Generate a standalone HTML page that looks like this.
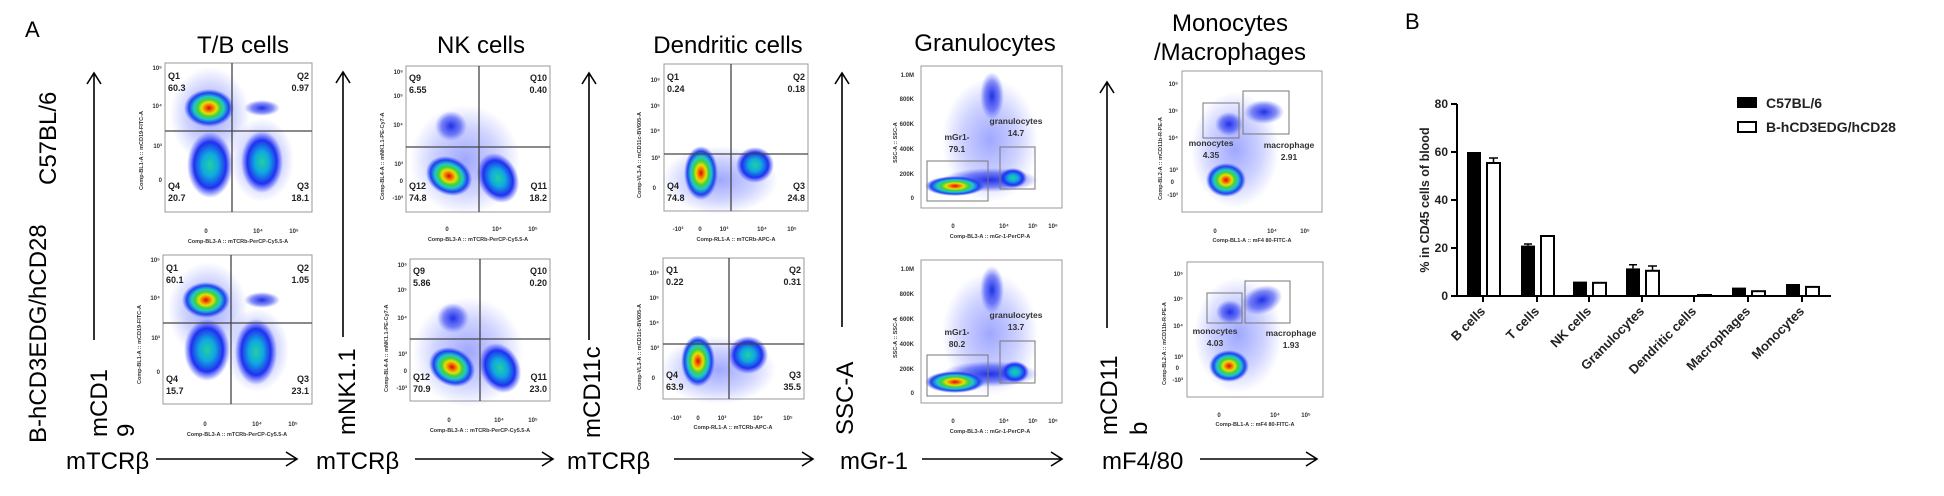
<!DOCTYPE html>
<html><head><meta charset="utf-8"><style>
html,body{margin:0;padding:0;background:#fff;}
svg{display:block;font-family:"Liberation Sans",Arial,sans-serif;}
.q{font-size:9px;font-weight:bold;fill:#222;}
.t{font-size:6px;fill:#333;font-weight:bold;}
.ax{font-size:5.5px;font-weight:bold;fill:#333;}
.big{font-size:24px;fill:#000;}
.gl{font-size:8.5px;font-weight:bold;fill:#333;}
.box{fill:#fff;stroke:#999;stroke-width:1;}
.qd{stroke:#444;stroke-width:1.3;}
.gate{fill:none;stroke:#777;stroke-width:1;}
.bl{font-size:13px;font-weight:bold;fill:#222;}
</style></head><body>
<svg width="1944" height="496" viewBox="0 0 1944 496" xmlns="http://www.w3.org/2000/svg">
<defs>
<radialGradient id="hot"><stop offset="0" stop-color="#e00010"/><stop offset="0.15" stop-color="#f07000"/><stop offset="0.3" stop-color="#e8e000"/><stop offset="0.45" stop-color="#40d040"/><stop offset="0.6" stop-color="#20c8c8"/><stop offset="0.8" stop-color="#2040f0"/><stop offset="1" stop-color="#3050ff" stop-opacity="0"/></radialGradient>
<radialGradient id="cool"><stop offset="0" stop-color="#20d0a0"/><stop offset="0.35" stop-color="#10a8e0"/><stop offset="0.7" stop-color="#2030f0"/><stop offset="1" stop-color="#3040ff" stop-opacity="0"/></radialGradient>
<radialGradient id="blu"><stop offset="0" stop-color="#2030e8"/><stop offset="0.6" stop-color="#3040f0" stop-opacity="0.6"/><stop offset="1" stop-color="#4050ff" stop-opacity="0"/></radialGradient>
<radialGradient id="halo"><stop offset="0" stop-color="#4050ff" stop-opacity="0.5"/><stop offset="0.6" stop-color="#4050ff" stop-opacity="0.25"/><stop offset="1" stop-color="#4050ff" stop-opacity="0"/></radialGradient>
</defs>

<text x="25" y="37" style="font-size:22px">A</text>
<text x="1405" y="29" style="font-size:22px">B</text>

<text class="big" x="243" y="53" text-anchor="middle">T/B cells</text>
<text class="big" x="481" y="53" text-anchor="middle">NK cells</text>
<text class="big" x="728" y="53" text-anchor="middle">Dendritic cells</text>
<text class="big" x="985" y="51" text-anchor="middle">Granulocytes</text>
<text class="big" x="1230" y="31" text-anchor="middle">Monocytes</text>
<text class="big" x="1230" y="60" text-anchor="middle">/Macrophages</text>

<text class="big" transform="translate(56,185) rotate(-90)">C57BL/6</text>
<text class="big" transform="translate(46,443) rotate(-90)">B-hCD3EDG/hCD28</text>
<text class="big" transform="translate(107,437) rotate(-90)">mCD1</text>
<text class="big" transform="translate(134,437) rotate(-90)">9</text>
<text class="big" transform="translate(355,435) rotate(-90)">mNK1.1</text>
<text class="big" transform="translate(600,438) rotate(-90)">mCD11c</text>
<text class="big" transform="translate(853,435) rotate(-90)">SSC-A</text>
<text class="big" transform="translate(1117,435) rotate(-90)">mCD11</text>
<text class="big" transform="translate(1147,435) rotate(-90)">b</text>

<text class="big" x="66" y="469">mTCRβ</text>
<text class="big" x="316" y="469">mTCRβ</text>
<text class="big" x="567" y="469">mTCRβ</text>
<text class="big" x="840" y="469">mGr-1</text>
<text class="big" x="1102" y="469">mF4/80</text>

<g stroke="#000" stroke-width="1.6" fill="none">
<path d="M156 459H297M286 452L297 459L286 466"/>
<path d="M415 459H553M542 452L553 459L542 466"/>
<path d="M674 459H813M802 452L813 459L802 466"/>
<path d="M922 459H1062M1051 452L1062 459L1051 466"/>
<path d="M1200 459H1317M1306 452L1317 459L1306 466"/>
<path d="M94 340V73M87 84L94 73L101 84"/>
<path d="M343 337V72M336 83L343 72L350 83"/>
<path d="M589 340V73M582 84L589 73L596 84"/>
<path d="M842 327V73M835 84L842 73L849 84"/>
<path d="M1107 328V82M1100 93L1107 82L1114 93"/>
</g>

<!-- T/B top -->
<rect class="box" x="165" y="63" width="147" height="149"/>
<ellipse cx="210" cy="115" rx="40" ry="48" fill="url(#halo)"/>
<ellipse cx="262" cy="160" rx="32" ry="42" fill="url(#halo)"/>
<ellipse cx="262" cy="108" rx="18" ry="8" fill="url(#blu)"/>
<ellipse cx="210" cy="165" rx="23" ry="33" fill="url(#cool)"/>
<ellipse cx="262" cy="162" rx="21" ry="31" fill="url(#cool)"/>
<ellipse cx="209" cy="108" rx="25" ry="19" fill="url(#hot)"/>
<line class="qd" x1="232" y1="63" x2="232" y2="212"/><line class="qd" x1="165" y1="131" x2="312" y2="131"/>
<text class="q" x="168" y="79">Q1</text><text class="q" x="168" y="91">60.3</text>
<text class="q" x="309" y="79" text-anchor="end">Q2</text><text class="q" x="309" y="91" text-anchor="end">0.97</text>
<text class="q" x="168" y="189">Q4</text><text class="q" x="168" y="201">20.7</text>
<text class="q" x="309" y="189" text-anchor="end">Q3</text><text class="q" x="309" y="201" text-anchor="end">18.1</text>
<text class="t" x="162" y="70" text-anchor="end">10⁵</text><text class="t" x="162" y="108" text-anchor="end">10⁴</text><text class="t" x="162" y="148" text-anchor="end">10³</text><text class="t" x="162" y="182" text-anchor="end">0</text>
<text class="ax" transform="translate(143,190) rotate(-90)">Comp-BL1-A :: mCD19-FITC-A</text>
<text class="t" x="206" y="233" text-anchor="middle">0</text><text class="t" x="258" y="233" text-anchor="middle">10⁴</text><text class="t" x="294" y="233" text-anchor="middle">10⁵</text>
<text class="ax" x="238" y="243" text-anchor="middle">Comp-BL3-A :: mTCRb-PerCP-Cy5.5-A</text>

<!-- T/B bottom -->
<rect class="box" x="163" y="255" width="149" height="149"/>
<ellipse cx="208" cy="310" rx="40" ry="48" fill="url(#halo)"/>
<ellipse cx="257" cy="350" rx="32" ry="42" fill="url(#halo)"/>
<ellipse cx="262" cy="300" rx="18" ry="8" fill="url(#blu)"/>
<ellipse cx="207" cy="350" rx="23" ry="31" fill="url(#cool)"/>
<ellipse cx="256" cy="352" rx="21" ry="33" fill="url(#cool)"/>
<ellipse cx="206" cy="300" rx="24" ry="18" fill="url(#hot)"/>
<line class="qd" x1="231" y1="255" x2="231" y2="404"/><line class="qd" x1="163" y1="323" x2="312" y2="323"/>
<text class="q" x="166" y="271">Q1</text><text class="q" x="166" y="283">60.1</text>
<text class="q" x="309" y="271" text-anchor="end">Q2</text><text class="q" x="309" y="283" text-anchor="end">1.05</text>
<text class="q" x="166" y="382">Q4</text><text class="q" x="166" y="394">15.7</text>
<text class="q" x="309" y="382" text-anchor="end">Q3</text><text class="q" x="309" y="394" text-anchor="end">23.1</text>
<text class="t" x="160" y="262" text-anchor="end">10⁵</text><text class="t" x="160" y="300" text-anchor="end">10⁴</text><text class="t" x="160" y="340" text-anchor="end">10³</text><text class="t" x="160" y="374" text-anchor="end">0</text>
<text class="ax" transform="translate(141,384) rotate(-90)">Comp-BL1-A :: mCD19-FITC-A</text>
<text class="t" x="205" y="426" text-anchor="middle">0</text><text class="t" x="257" y="426" text-anchor="middle">10⁴</text><text class="t" x="293" y="426" text-anchor="middle">10⁵</text>
<text class="ax" x="237" y="436" text-anchor="middle">Comp-BL3-A :: mTCRb-PerCP-Cy5.5-A</text>

<!-- NK top -->
<rect class="box" x="406" y="66" width="144" height="146"/>
<ellipse cx="465" cy="160" rx="55" ry="55" fill="url(#halo)"/>
<ellipse cx="451" cy="126" rx="16" ry="15" fill="url(#blu)"/>
<ellipse cx="498" cy="178" rx="20" ry="26" fill="url(#cool)" transform="rotate(-25 498 178)"/>
<ellipse cx="449" cy="176" rx="24" ry="19" fill="url(#hot)" transform="rotate(25 449 176)"/>
<line class="qd" x1="479" y1="66" x2="479" y2="212"/><line class="qd" x1="406" y1="147" x2="550" y2="147"/>
<text class="q" x="409" y="81">Q9</text><text class="q" x="409" y="93">6.55</text>
<text class="q" x="547" y="81" text-anchor="end">Q10</text><text class="q" x="547" y="93" text-anchor="end">0.40</text>
<text class="q" x="409" y="189">Q12</text><text class="q" x="409" y="201">74.8</text>
<text class="q" x="547" y="189" text-anchor="end">Q11</text><text class="q" x="547" y="201" text-anchor="end">18.2</text>
<text class="t" x="403" y="74" text-anchor="end">10⁶</text><text class="t" x="403" y="98" text-anchor="end">10⁵</text><text class="t" x="403" y="127" text-anchor="end">10⁴</text><text class="t" x="403" y="166" text-anchor="end">10³</text><text class="t" x="403" y="183" text-anchor="end">0</text><text class="t" x="403" y="200" text-anchor="end">-10³</text>
<text class="ax" transform="translate(384,200) rotate(-90)">Comp-BL4-A :: mNK1.1-PE-Cy7-A</text>
<text class="t" x="447" y="231" text-anchor="middle">0</text><text class="t" x="497" y="231" text-anchor="middle">10⁴</text><text class="t" x="533" y="231" text-anchor="middle">10⁵</text>
<text class="ax" x="478" y="241" text-anchor="middle">Comp-BL3-A :: mTCRb-PerCP-Cy5.5-A</text>

<!-- NK bottom -->
<rect class="box" x="410" y="259" width="140" height="142"/>
<ellipse cx="468" cy="352" rx="55" ry="55" fill="url(#halo)"/>
<ellipse cx="453" cy="318" rx="16" ry="15" fill="url(#blu)"/>
<ellipse cx="500" cy="368" rx="20" ry="26" fill="url(#cool)" transform="rotate(-25 500 368)"/>
<ellipse cx="452" cy="367" rx="24" ry="19" fill="url(#hot)" transform="rotate(25 452 367)"/>
<line class="qd" x1="480" y1="259" x2="480" y2="401"/><line class="qd" x1="410" y1="339" x2="550" y2="339"/>
<text class="q" x="413" y="274">Q9</text><text class="q" x="413" y="286">5.86</text>
<text class="q" x="547" y="274" text-anchor="end">Q10</text><text class="q" x="547" y="286" text-anchor="end">0.20</text>
<text class="q" x="413" y="380">Q12</text><text class="q" x="413" y="392">70.9</text>
<text class="q" x="547" y="380" text-anchor="end">Q11</text><text class="q" x="547" y="392" text-anchor="end">23.0</text>
<text class="t" x="407" y="267" text-anchor="end">10⁶</text><text class="t" x="407" y="292" text-anchor="end">10⁵</text><text class="t" x="407" y="320" text-anchor="end">10⁴</text><text class="t" x="407" y="356" text-anchor="end">10³</text><text class="t" x="407" y="373" text-anchor="end">0</text><text class="t" x="407" y="390" text-anchor="end">-10³</text>
<text class="ax" transform="translate(388,392) rotate(-90)">Comp-BL4-A :: mNK1.1-PE-Cy7-A</text>
<text class="t" x="449" y="422" text-anchor="middle">0</text><text class="t" x="499" y="422" text-anchor="middle">10⁴</text><text class="t" x="533" y="422" text-anchor="middle">10⁵</text>
<text class="ax" x="480" y="432" text-anchor="middle">Comp-BL3-A :: mTCRb-PerCP-Cy5.5-A</text>

<!-- DC top -->
<rect class="box" x="664" y="64" width="144" height="147"/>
<ellipse cx="720" cy="180" rx="58" ry="34" fill="url(#halo)"/>
<ellipse cx="755" cy="165" rx="19" ry="18" fill="url(#cool)"/>
<ellipse cx="701" cy="173" rx="17" ry="27" fill="url(#hot)"/>
<line class="qd" x1="731" y1="64" x2="731" y2="211"/><line class="qd" x1="664" y1="154" x2="808" y2="154"/>
<text class="q" x="667" y="80">Q1</text><text class="q" x="667" y="92">0.24</text>
<text class="q" x="805" y="80" text-anchor="end">Q2</text><text class="q" x="805" y="92" text-anchor="end">0.18</text>
<text class="q" x="667" y="189">Q4</text><text class="q" x="667" y="201">74.8</text>
<text class="q" x="805" y="189" text-anchor="end">Q3</text><text class="q" x="805" y="201" text-anchor="end">24.8</text>
<text class="t" x="660" y="82" text-anchor="end">10⁶</text><text class="t" x="660" y="108" text-anchor="end">10⁵</text><text class="t" x="660" y="133" text-anchor="end">10⁴</text><text class="t" x="660" y="160" text-anchor="end">10³</text><text class="t" x="656" y="190" text-anchor="end">0</text>
<text class="ax" transform="translate(641,198) rotate(-90)">Comp-VL3-A :: mCD11c-BV605-A</text>
<text class="t" x="678" y="231" text-anchor="middle">-10³</text><text class="t" x="700" y="231" text-anchor="middle">0</text><text class="t" x="724" y="231" text-anchor="middle">10³</text><text class="t" x="762" y="231" text-anchor="middle">10⁴</text><text class="t" x="792" y="231" text-anchor="middle">10⁵</text>
<text class="ax" x="736" y="241" text-anchor="middle">Comp-RL1-A :: mTCRb-APC-A</text>

<!-- DC bottom -->
<rect class="box" x="663" y="258" width="141" height="141"/>
<ellipse cx="718" cy="370" rx="58" ry="34" fill="url(#halo)"/>
<ellipse cx="748" cy="355" rx="20" ry="19" fill="url(#cool)"/>
<ellipse cx="698" cy="361" rx="17" ry="26" fill="url(#hot)"/>
<line class="qd" x1="729" y1="258" x2="729" y2="399"/><line class="qd" x1="663" y1="344" x2="804" y2="344"/>
<text class="q" x="666" y="273">Q1</text><text class="q" x="666" y="285">0.22</text>
<text class="q" x="801" y="273" text-anchor="end">Q2</text><text class="q" x="801" y="285" text-anchor="end">0.31</text>
<text class="q" x="666" y="378">Q4</text><text class="q" x="666" y="390">63.9</text>
<text class="q" x="801" y="378" text-anchor="end">Q3</text><text class="q" x="801" y="390" text-anchor="end">35.5</text>
<text class="t" x="659" y="275" text-anchor="end">10⁶</text><text class="t" x="659" y="300" text-anchor="end">10⁵</text><text class="t" x="659" y="325" text-anchor="end">10⁴</text><text class="t" x="659" y="350" text-anchor="end">10³</text><text class="t" x="655" y="380" text-anchor="end">0</text>
<text class="ax" transform="translate(641,390) rotate(-90)">Comp-VL3-A :: mCD11c-BV605-A</text>
<text class="t" x="676" y="420" text-anchor="middle">-10³</text><text class="t" x="698" y="420" text-anchor="middle">0</text><text class="t" x="722" y="420" text-anchor="middle">10³</text><text class="t" x="758" y="420" text-anchor="middle">10⁴</text><text class="t" x="788" y="420" text-anchor="middle">10⁵</text>
<text class="ax" x="733" y="429" text-anchor="middle">Comp-RL1-A :: mTCRb-APC-A</text>

<!-- Gran top -->
<rect class="box" x="921" y="66" width="141" height="142"/>
<ellipse cx="990" cy="140" rx="48" ry="62" fill="url(#halo)"/>
<ellipse cx="992" cy="96" rx="12" ry="24" fill="url(#blu)"/>
<ellipse cx="990" cy="180" rx="48" ry="12" fill="url(#blu)"/>
<ellipse cx="1013" cy="178" rx="14" ry="10" fill="url(#cool)"/>
<ellipse cx="955" cy="186" rx="30" ry="10" fill="url(#hot)"/>
<rect class="gate" x="927" y="161" width="61" height="40"/>
<rect class="gate" x="1000" y="147" width="35" height="42"/>
<text class="gl" x="1016" y="124" text-anchor="middle">granulocytes</text><text class="gl" x="1016" y="136" text-anchor="middle">14.7</text>
<text class="gl" x="957" y="140" text-anchor="middle">mGr1-</text><text class="gl" x="957" y="152" text-anchor="middle">79.1</text>
<text class="t" x="914" y="77" text-anchor="end">1.0M</text><text class="t" x="914" y="101" text-anchor="end">800K</text><text class="t" x="914" y="126" text-anchor="end">600K</text><text class="t" x="914" y="151" text-anchor="end">400K</text><text class="t" x="914" y="176" text-anchor="end">200K</text><text class="t" x="914" y="200" text-anchor="end">0</text>
<text class="ax" transform="translate(897,163) rotate(-90)">SSC-A :: SSC-A</text>
<text class="t" x="953" y="228" text-anchor="middle">0</text><text class="t" x="1004" y="228" text-anchor="middle">10⁴</text><text class="t" x="1033" y="228" text-anchor="middle">10⁵</text><text class="t" x="1053" y="228" text-anchor="middle">10⁶</text>
<text class="ax" x="990" y="238" text-anchor="middle">Comp-BL3-A :: mGr-1-PerCP-A</text>

<!-- Gran bottom -->
<rect class="box" x="921" y="260" width="141" height="143"/>
<ellipse cx="990" cy="334" rx="48" ry="62" fill="url(#halo)"/>
<ellipse cx="992" cy="290" rx="12" ry="24" fill="url(#blu)"/>
<ellipse cx="990" cy="374" rx="48" ry="13" fill="url(#blu)"/>
<ellipse cx="1015" cy="372" rx="14" ry="11" fill="url(#cool)"/>
<ellipse cx="955" cy="382" rx="30" ry="11" fill="url(#hot)"/>
<rect class="gate" x="927" y="355" width="61" height="41"/>
<rect class="gate" x="1000" y="341" width="35" height="42"/>
<text class="gl" x="1016" y="318" text-anchor="middle">granulocytes</text><text class="gl" x="1016" y="330" text-anchor="middle">13.7</text>
<text class="gl" x="957" y="335" text-anchor="middle">mGr1-</text><text class="gl" x="957" y="347" text-anchor="middle">80.2</text>
<text class="t" x="914" y="271" text-anchor="end">1.0M</text><text class="t" x="914" y="296" text-anchor="end">800K</text><text class="t" x="914" y="321" text-anchor="end">600K</text><text class="t" x="914" y="346" text-anchor="end">400K</text><text class="t" x="914" y="371" text-anchor="end">200K</text><text class="t" x="914" y="395" text-anchor="end">0</text>
<text class="ax" transform="translate(897,358) rotate(-90)">SSC-A :: SSC-A</text>
<text class="t" x="953" y="423" text-anchor="middle">0</text><text class="t" x="1004" y="423" text-anchor="middle">10⁴</text><text class="t" x="1033" y="423" text-anchor="middle">10⁵</text><text class="t" x="1053" y="423" text-anchor="middle">10⁶</text>
<text class="ax" x="990" y="433" text-anchor="middle">Comp-BL3-A :: mGr-1-PerCP-A</text>

<!-- Mono top -->
<rect class="box" x="1182" y="71" width="140" height="141"/>
<ellipse cx="1235" cy="150" rx="44" ry="58" fill="url(#halo)"/>
<ellipse cx="1229" cy="124" rx="14" ry="12" fill="url(#blu)"/>
<ellipse cx="1264" cy="112" rx="20" ry="12" fill="url(#blu)"/>
<ellipse cx="1226" cy="180" rx="20" ry="17" fill="url(#hot)"/>
<rect class="gate" x="1203" y="103" width="36" height="35"/>
<rect class="gate" x="1243" y="91" width="46" height="43"/>
<text class="gl" x="1211" y="146" text-anchor="middle">monocytes</text><text class="gl" x="1211" y="158" text-anchor="middle">4.35</text>
<text class="gl" x="1289" y="148" text-anchor="middle">macrophage</text><text class="gl" x="1289" y="160" text-anchor="middle">2.91</text>
<text class="t" x="1178" y="86" text-anchor="end">10⁶</text><text class="t" x="1178" y="113" text-anchor="end">10⁵</text><text class="t" x="1178" y="140" text-anchor="end">10⁴</text><text class="t" x="1178" y="172" text-anchor="end">10³</text><text class="t" x="1174" y="184" text-anchor="end">0</text><text class="t" x="1178" y="197" text-anchor="end">-10³</text>
<text class="ax" transform="translate(1162,200) rotate(-90)">Comp-BL2-A :: mCD11b-R-PE-A</text>
<text class="t" x="1215" y="233" text-anchor="middle">0</text><text class="t" x="1272" y="233" text-anchor="middle">10⁴</text><text class="t" x="1305" y="233" text-anchor="middle">10⁵</text>
<text class="ax" x="1252" y="242" text-anchor="middle">Comp-BL1-A :: mF4 80-FITC-A</text>

<!-- Mono bottom -->
<rect class="box" x="1187" y="262" width="136" height="135"/>
<ellipse cx="1238" cy="335" rx="44" ry="58" fill="url(#halo)"/>
<ellipse cx="1230" cy="312" rx="14" ry="12" fill="url(#blu)"/>
<ellipse cx="1262" cy="300" rx="21" ry="14" fill="url(#blu)" transform="rotate(-20 1262 300)"/>
<ellipse cx="1229" cy="366" rx="20" ry="16" fill="url(#hot)"/>
<rect class="gate" x="1207" y="293" width="35" height="30"/>
<rect class="gate" x="1245" y="281" width="45" height="42"/>
<text class="gl" x="1215" y="334" text-anchor="middle">monocytes</text><text class="gl" x="1215" y="346" text-anchor="middle">4.03</text>
<text class="gl" x="1291" y="336" text-anchor="middle">macrophage</text><text class="gl" x="1291" y="348" text-anchor="middle">1.93</text>
<text class="t" x="1183" y="276" text-anchor="end">10⁶</text><text class="t" x="1183" y="301" text-anchor="end">10⁵</text><text class="t" x="1183" y="328" text-anchor="end">10⁴</text><text class="t" x="1183" y="359" text-anchor="end">10³</text><text class="t" x="1179" y="370" text-anchor="end">0</text><text class="t" x="1183" y="382" text-anchor="end">-10³</text>
<text class="ax" transform="translate(1166,385) rotate(-90)">Comp-BL2-A :: mCD11b-R-PE-A</text>
<text class="t" x="1219" y="417" text-anchor="middle">0</text><text class="t" x="1275" y="417" text-anchor="middle">10⁴</text><text class="t" x="1306" y="417" text-anchor="middle">10⁵</text>
<text class="ax" x="1255" y="426" text-anchor="middle">Comp-BL1-A :: mF4 80-FITC-A</text>

<!-- Bar chart B -->
<g stroke="#000" stroke-width="2" fill="none">
<path d="M1457 104V296H1831"/>
<path d="M1451 104H1457M1451 152H1457M1451 200H1457M1451 248H1457M1451 296H1457"/>
<path d="M1483 296V302M1537 296V302M1589 296V302M1642 296V302M1694 296V302M1748 296V302M1802 296V302"/>
</g>
<g style="font-size:12px;font-weight:bold;fill:#222" text-anchor="end">
<text x="1448" y="108">80</text><text x="1448" y="156">60</text><text x="1448" y="204">40</text><text x="1448" y="252">20</text><text x="1448" y="300">0</text>
</g>
<text transform="translate(1429,200) rotate(-90)" text-anchor="middle" style="font-size:12.5px;font-weight:bold;fill:#222">% in CD45 cells of blood</text>
<g fill="#000">
<rect x="1467" y="152" width="14" height="144"/>
<rect x="1521" y="245.6" width="14" height="50.4"/>
<rect x="1573" y="281.6" width="14" height="14.4"/>
<rect x="1626" y="268.4" width="14" height="27.6"/>
<rect x="1678" y="295" width="14" height="1"/>
<rect x="1732" y="287.6" width="14" height="8.4"/>
<rect x="1786" y="284" width="14" height="12"/>
</g>
<g fill="#fff" stroke="#000" stroke-width="2">
<rect x="1487" y="163" width="13" height="133"/>
<rect x="1541" y="236" width="13" height="60"/>
<rect x="1593" y="282.8" width="13" height="13.2"/>
<rect x="1646" y="270.8" width="13" height="25.2"/>
<rect x="1698" y="295" width="13" height="1"/>
<rect x="1752" y="291.2" width="13" height="4.8"/>
<rect x="1806" y="286.9" width="13" height="9.1"/>
</g>
<g stroke="#000" stroke-width="1.5">
<path d="M1493.5 163V158M1489 158H1498"/>
<path d="M1633 268.4V264.8M1629 264.8H1637"/>
<path d="M1652.5 270.8V266M1648 266H1657"/>
<path d="M1528 245.6V244M1524 244H1532"/>
</g>
<g class="bl" text-anchor="end">
<text transform="translate(1486,312) rotate(-45)">B cells</text>
<text transform="translate(1540,312) rotate(-45)">T cells</text>
<text transform="translate(1592,312) rotate(-45)">NK cells</text>
<text transform="translate(1645,312) rotate(-45)">Granulocytes</text>
<text transform="translate(1697,312) rotate(-45)">Dendritic cells</text>
<text transform="translate(1751,312) rotate(-45)">Macrophages</text>
<text transform="translate(1805,312) rotate(-45)">Monocytes</text>
</g>
<rect x="1737" y="97" width="20" height="11" fill="#000"/>
<rect x="1738" y="122" width="18" height="10" fill="#fff" stroke="#000" stroke-width="2"/>
<text x="1766" y="108" style="font-size:14px;font-weight:bold;fill:#222">C57BL/6</text>
<text x="1766" y="132" style="font-size:14px;font-weight:bold;fill:#222">B-hCD3EDG/hCD28</text>
</svg>
</body></html>
